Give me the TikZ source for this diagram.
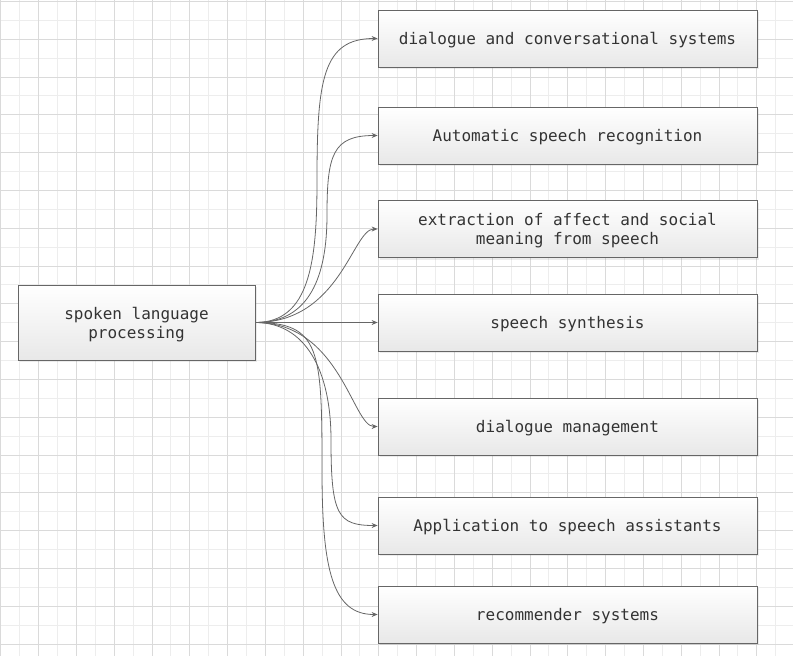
\documentclass[tikz,border=0pt]{standalone}
\usepackage{fontspec}
\setmonofont{DejaVu Sans Mono}
\usetikzlibrary{arrows.meta,shadows}
\definecolor{gridminor}{HTML}{EDEDED}
\definecolor{gridmajor}{HTML}{DADADA}
\definecolor{edgegray}{HTML}{666666}
\definecolor{textgray}{HTML}{333333}
\definecolor{boxbottom}{HTML}{E8E8E8}

\begin{document}
\begin{tikzpicture}[x=1pt,y=-1pt,
    topic/.style={draw=edgegray,line width=0.8pt,top color=white,bottom color=boxbottom,
      drop shadow={shadow xshift=2pt,shadow yshift=-2pt,opacity=0.15},
      minimum width=379pt,minimum height=57pt,inner sep=0pt,align=center,text depth=0pt,
      font=\ttfamily\fontsize{16}{19}\selectfont,text=textgray},
    link/.style={draw=edgegray,line width=0.8pt,-{Stealth[length=6pt,width=5pt]}}]

    \useasboundingbox (0,0) rectangle (793,656);

    % grid
    \foreach \x in {0.7,19.6,...,793}
        \draw[gridminor,line width=0.8pt] (\x,0) -- (\x,656);
    \foreach \y in {1.3,20.2,...,656}
        \draw[gridminor,line width=0.8pt] (0,\y) -- (793,\y);
    \foreach \x in {0.7,38.5,...,793}
        \draw[gridmajor,line width=0.8pt] (\x,0) -- (\x,656);
    \foreach \y in {1.3,39.1,...,656}
        \draw[gridmajor,line width=0.8pt] (0,\y) -- (793,\y);

    \node[topic,minimum width=237pt,minimum height=75pt] (spl) at (136.5,322.5) {spoken language\\processing};
    \node[topic] (dcs) at (567.5,38.5) {dialogue and conversational systems};
    \node[topic] (asr) at (567.5,135.5) {Automatic speech recognition};
    \node[topic] (aff) at (567.5,229) {extraction of affect and social\\meaning from speech};
    \node[topic] (tts) at (567.5,322.5) {speech synthesis};
    \node[topic] (dm) at (567.5,426.5) {dialogue management};
    \node[topic] (asst) at (567.5,525.5) {Application to speech assistants};
    \node[topic] (rec) at (567.5,614.5) {recommender systems};

    % bends of the long links
    \coordinate (b1) at (317,180);
    \coordinate (b2) at (327,215);
    \coordinate (b6) at (331,440);
    \coordinate (b7) at (322,470);

    \draw[link] (spl.east) .. controls +(55,0) and +(0,80) .. (b1) .. controls +(0,-100) and +(-55,0) .. (dcs.west);
    \draw[link] (spl.east) .. controls +(55,0) and +(0,60) .. (b2) .. controls +(0,-60) and +(-45,0) .. (asr.west);
    \draw[link] (spl.east) .. controls +(85,0) and +(-25,0) .. (aff.west);
    \draw[link] (spl.east) -- (tts.west);
    \draw[link] (spl.east) .. controls +(85,0) and +(-25,0) .. (dm.west);
    \draw[link] (spl.east) .. controls +(50,0) and +(0,-70) .. (b6) .. controls +(0,75) and +(-40,0) .. (asst.west);
    \draw[link] (spl.east) .. controls +(65,0) and +(0,-120) .. (b7) .. controls +(0,100) and +(-45,0) .. (rec.west);
\end{tikzpicture}
\end{document}
